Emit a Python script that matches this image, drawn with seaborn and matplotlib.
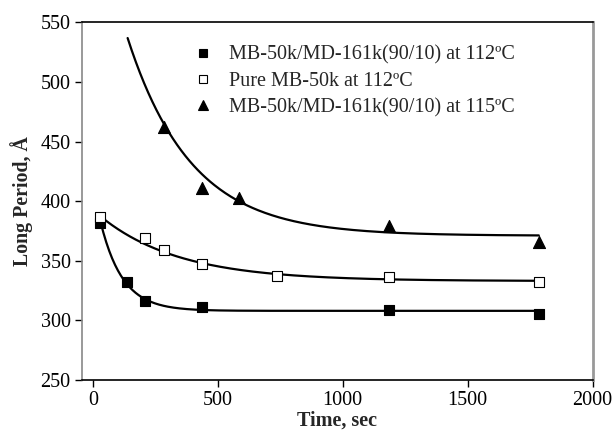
import numpy as np
import pandas as pd
import matplotlib
matplotlib.use("Agg")
import matplotlib.pyplot as plt
import seaborn as sns
from matplotlib.lines import Line2D

# ---- data ----
labels = ["MB-50k/MD-161k(90/10) at 112ºC",
          "Pure MB-50k at 112ºC",
          "MB-50k/MD-161k(90/10) at 115ºC"]

t_blend112 = [30, 135, 210, 435, 1185, 1785]
L_blend112 = [382, 332, 316, 311, 309, 305]

t_pure112 = [30, 210, 285, 435, 735, 1185, 1785]
L_pure112 = [387, 369, 359, 347, 337, 336, 332]

t_blend115 = [285, 435, 585, 1185, 1785]
L_blend115 = [462, 411, 403, 379, 366]

# exponential trend-line parameters: plateau, amplitude, time constant, t range
fit_plateau = [308, 333, 371]
fit_amp = [105.6, 59.7, 286]
fit_tau = [88, 317, 255]
fit_tstart = [30, 30, 139]
fit_tend = [1785, 1785, 1785]

xticks = [0, 500, 1000, 1500, 2000]
yticks = [250, 300, 350, 400, 450, 500, 550]

# ---- styling ----
sns.set_style("white")
plt.rcParams['font.family'] = ['Liberation Serif', 'DejaVu Serif']

fig = plt.figure(figsize=(6.14, 4.30), dpi=100)
ax = fig.add_axes([0.133, 0.1163, 0.832, 0.8318])

markers = ["s", "s", "^"]
faces = ["black", "white", "black"]
sizes = [55, 55, 75]
series = [(t_blend112, L_blend112), (t_pure112, L_pure112), (t_blend115, L_blend115)]

for i, (t, L) in enumerate(series):
    tt = np.linspace(fit_tstart[i], fit_tend[i], 300)
    yy = fit_plateau[i] + fit_amp[i] * np.exp(-tt / fit_tau[i])
    sns.lineplot(x=tt, y=yy, ax=ax, color="black", linewidth=1.6, zorder=2)
    df = pd.DataFrame({"t": t, "L": L})
    sns.scatterplot(data=df, x="t", y="L", ax=ax, marker=markers[i],
                    color=faces[i], edgecolor="black", linewidth=0.8,
                    s=sizes[i], zorder=3)

ax.set_xlim(-45, 2000)
ax.set_ylim(250, 550)
ax.set_xticks(xticks)
ax.set_yticks(yticks)
ax.tick_params(axis='both', direction='out', length=5, width=1, colors='black',
               labelsize=14.5, pad=3, left=True, bottom=True)
ax.set_xlabel("Time, sec", fontsize=14.5, fontweight='bold', labelpad=0)
ax.set_ylabel("Long Period, Å", fontsize=14.3, fontweight='bold', labelpad=5)

for side in ["top", "bottom"]:
    ax.spines[side].set_color("black")
    ax.spines[side].set_linewidth(1.2)
ax.spines["left"].set_color("#888888")
ax.spines["left"].set_linewidth(1.2)
ax.spines["right"].set_color("#999999")
ax.spines["right"].set_linewidth(2)

handles = [Line2D([], [], linestyle='none', marker=markers[i],
                  markersize=5.5 if markers[i] == "s" else 6.5,
                  markerfacecolor=faces[i], markeredgecolor='black', markeredgewidth=0.8)
           for i in range(3)]
leg = ax.legend(handles, labels, loc='upper left', bbox_to_anchor=(0.218, 0.935),
                frameon=False, fontsize=14.5, handlelength=1.0, handletextpad=0.8,
                labelspacing=0.35, borderaxespad=0, borderpad=0)

fig.savefig("out.png", dpi=100)
